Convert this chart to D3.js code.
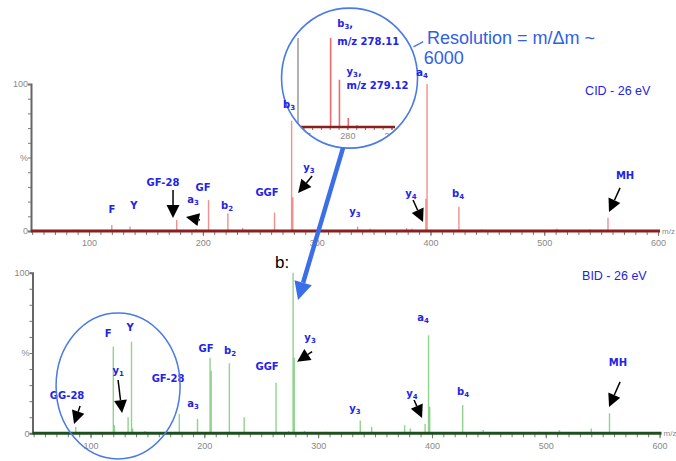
<!DOCTYPE html>
<html>
<head>
<meta charset="utf-8">
<script src="https://cdn.jsdelivr.net/npm/d3@7"></script>
<style>
  body { margin: 0; background: #fff; }
  svg { display: block; }
  .tick text { fill: #888; font-family: "Liberation Sans", Arial, sans-serif; font-size: 9px; }
  .lbl { fill: #2323e8; font-family: "DejaVu Sans", sans-serif; font-weight: bold; font-size: 10px; }
</style>
</head>
<body>
<div id="chart"></div>
<script>
// CID spectrum (upper panel), m/z and relative intensity %
var cidMz  = [87, 120, 136, 148, 177, 194, 205, 222, 235, 263, 278, 279, 307, 336, 347, 379, 384, 396, 397, 425, 445, 511, 540, 556];
var cidInt = [0.8, 4, 3, 0.8, 7.5, 1.5, 21, 12, 2, 12.5, 75, 23, 0.8, 3, 1.5, 2, 1.5, 22, 100, 16.5, 1, 1.5, 1, 9];

// BID spectrum (lower panel)
var bidMz  = [87, 120, 121, 133, 136, 137, 148, 178, 194, 205, 206, 222, 235, 263, 274, 278, 279, 288, 307, 337, 347, 376, 381, 394, 397, 398, 427, 445, 494, 512, 540, 556];
var bidInt = [4, 54, 5, 10, 57, 3, 1.5, 12, 9, 47, 39, 43.6, 10, 31.5, 1.5, 100, 47, 1.5, 1, 8, 4, 5, 3, 6, 61, 16.5, 17.6, 2, 1, 2, 3, 12.4];

// zoomed inset around b3 / y3
var insetMz  = [278.1, 279.1, 280.1, 281.1];
var insetInt = [100, 53, 10, 2];

var xTicks = [100, 200, 300, 400, 500, 600];
var insetTicks = [275, 280, 285];

var w = 676, h = 461;
var svg = d3.select('#chart').append('svg').attr('width', w).attr('height', h);

var x  = d3.scaleLinear().domain([49, 601.7]).range([31, 660]);
var xb = d3.scaleLinear().domain([49, 601.7]).range([32.5, 661.5]);
var yTop = d3.scaleLinear().domain([0, 100]).range([231, 84]);
var yBot = d3.scaleLinear().domain([0, 100]).range([433.3, 272.7]);

function panel(xs, ys, mz, inten, peakCol, axisCol) {
    var g = svg.append('g');
    // y axis
    var ya = g.append('g').attr('transform', 'translate(' + xs.range()[0] + ',0)')
        .call(d3.axisLeft(ys).tickValues(d3.range(0, 101, 10)).tickSize(3)
            .tickFormat(function(d){ return d == 100 ? '100' : d == 50 ? '%' : d == 0 ? '0' : ''; }));
    ya.select('.domain').attr('stroke', '#666').attr('stroke-width', 2);
    ya.selectAll('.tick line').attr('stroke', '#777');
    ya.selectAll('.tick text').attr('font-size', 8).attr('x', -3);

    // peaks
    g.selectAll('line.pk').data(d3.range(mz.length)).enter().append('line')
        .attr('class', 'pk')
        .attr('x1', function(i){ return xs(mz[i]); })
        .attr('x2', function(i){ return xs(mz[i]); })
        .attr('y1', ys(0))
        .attr('y2', function(i){ return ys(inten[i]); })
        .attr('stroke', peakCol).attr('stroke-width', 1.4).attr('opacity', 0.75);

    // minor x ticks
    var minor = g.append('g').attr('transform', 'translate(0,' + ys(0) + ')')
        .call(d3.axisBottom(xs).tickValues(d3.range(50, 601, 10)).tickSize(4).tickFormat(''));
    minor.select('.domain').remove();
    minor.selectAll('line').attr('stroke', '#777');
    var major = g.append('g').attr('transform', 'translate(0,' + ys(0) + ')')
        .call(d3.axisBottom(xs).tickValues(xTicks).tickSize(5).tickPadding(4));
    major.select('.domain').remove();
    major.selectAll('line').attr('stroke', '#777');

    // baseline
    g.append('line').attr('x1', xs.range()[0]).attr('x2', xs.range()[1])
        .attr('y1', ys(0)).attr('y2', ys(0))
        .attr('stroke', axisCol).attr('stroke-width', 3);
    g.append('text').attr('x', xs.range()[1] + 2).attr('y', ys(0) + 3)
        .attr('fill', '#888').attr('font-size', 8)
        .attr('font-family', '"Liberation Sans", Arial, sans-serif').text('m/z');
    return g;
}

panel(x, yTop, cidMz, cidInt, '#f06a6a', '#8b1e1e');
panel(xb, yBot, bidMz, bidInt, '#6cc46c', '#1f4f1f');

// inset magnifier (drawn before the labels so b3 sits on top of its rim)
var cx = x(328.9), cy = yTop(104);
svg.append('defs').append('clipPath').attr('id', 'lens')
    .append('ellipse').attr('cx', cx).attr('cy', cy).attr('rx', 68).attr('ry', 70);
svg.append('ellipse').attr('cx', cx).attr('cy', cy).attr('rx', 68).attr('ry', 70).attr('fill', '#fff');
var ins = svg.append('g').attr('clip-path', 'url(#lens)');
var xi = d3.scaleLinear().domain([274.4, 285.4]).range([298, 395]);
var yi = d3.scaleLinear().domain([0, 100]).range([127, 38]);
ins.append('line').attr('x1', xi(274.4)).attr('x2', xi(274.4)).attr('y1', yi(0)).attr('y2', yi(100))
    .attr('stroke', '#999').attr('stroke-width', 1.5);
ins.selectAll('line.ip').data(d3.range(insetMz.length)).enter().append('line')
    .attr('x1', function(i){ return xi(insetMz[i]); }).attr('x2', function(i){ return xi(insetMz[i]); })
    .attr('y1', yi(0)).attr('y2', function(i){ return yi(insetInt[i]); })
    .attr('stroke', '#f06a6a').attr('stroke-width', 1.6);
var ia = ins.append('g').attr('transform', 'translate(0,' + yi(0) + ')')
    .call(d3.axisBottom(xi).tickValues(d3.range(275, 286, 1)).tickSize(3).tickFormat(''));
ia.select('.domain').remove();
ia.selectAll('line').attr('stroke', '#777');
var ib = ins.append('g').attr('transform', 'translate(0,' + yi(0) + ')')
    .call(d3.axisBottom(xi).tickValues(insetTicks).tickSize(3).tickPadding(3));
ib.select('.domain').remove();
ib.selectAll('line').attr('stroke', '#777');
ib.selectAll('text').attr('font-size', 8);
ins.append('line').attr('x1', xi(274.4)).attr('x2', xi(285.4)).attr('y1', yi(0)).attr('y2', yi(0))
    .attr('stroke', '#8b1e1e').attr('stroke-width', 2.5);
svg.append('ellipse').attr('cx', cx).attr('cy', cy).attr('rx', 68).attr('ry', 70)
    .attr('fill', 'none').attr('stroke', '#4a7ae6').attr('stroke-width', 1.6);

function insetLbl(tx, sub, px, py) {
    var t = svg.append('text').attr('class', 'lbl').attr('font-size', 10.5).attr('x', px).attr('y', py).text(tx);
    if (sub) { t.append('tspan').attr('font-size', 7).attr('dy', 2).text(sub); t.append('tspan').attr('dy', -2).text(','); }
}
insetLbl('b', '3', xi(278.85), yi(112));
insetLbl('m/z 278.11', '', xi(278.85), yi(92));
insetLbl('y', '3', xi(279.9), yi(58));
insetLbl('m/z 279.12', '', xi(279.9), yi(43));

// labels: [text, subscript, mz, pct]
function labels(xs, ys, list) {
    list.forEach(function(l){
        var t = svg.append('text').attr('class', 'lbl')
            .attr('x', xs(l[2])).attr('y', ys(l[3]) + 4)
            .attr('text-anchor', 'middle').text(l[0]);
        if (l[1]) t.append('tspan').attr('font-size', 7).attr('dy', 2).text(l[1]);
    });
}
labels(x, yTop, [
    ['F', '', 120.2, 15], ['Y', '', 139.5, 17.7], ['GF-28', '', 165, 33.3],
    ['a', '3', 191.4, 21.8], ['GF', '', 200.2, 30], ['b', '2', 221.3, 17.7],
    ['GGF', '', 256.4, 26.5], ['b', '3', 275.8, 86.4], ['y', '3', 293.3, 43.5],
    ['y', '3', 333.7, 13.6], ['y', '4', 382.9, 25.9], ['a', '4', 392.6, 108.2],
    ['b', '4', 424.2, 25.9], ['MH', '', 571, 38]
]);
labels(xb, yBot, [
    ['GG-28', '', 79.4, 23.9], ['F', '', 115.4, 62.5], ['Y', '', 134.7, 66.2],
    ['y', '1', 124.2, 39.4], ['GF-28', '', 168.1, 34.4], ['a', '3', 190, 18.9],
    ['GF', '', 201.5, 53.1], ['b', '2', 222.6, 51.9], ['GGF', '', 255.1, 41.9],
    ['y', '3', 292.9, 60], ['y', '3', 332.4, 15.8], ['y', '4', 382.5, 25.1],
    ['a', '4', 392.2, 72.4], ['b', '4', 427.3, 26.3], ['MH', '', 563.5, 44.4]
]);

// black arrows: [tailMz, tailPct, tipMz, tipPct]
function arrows(xs, ys, list) {
    list.forEach(function(a){
        var x1 = xs(a[0]), y1 = ys(a[1]), x2 = xs(a[2]), y2 = ys(a[3]);
        var ang = Math.atan2(y2 - y1, x2 - x1), L = 13, W = 6.5;
        var bx = x2 - L * Math.cos(ang), by = y2 - L * Math.sin(ang);
        svg.append('line').attr('x1', x1).attr('y1', y1).attr('x2', bx).attr('y2', by)
            .attr('stroke', '#000').attr('stroke-width', 1.5);
        var p = [[x2, y2],
                 [bx + W * Math.sin(ang), by - W * Math.cos(ang)],
                 [bx - W * Math.sin(ang), by + W * Math.cos(ang)]];
        svg.append('path').attr('d', d3.line()(p) + 'Z').attr('fill', '#000');
    });
}
arrows(x, yTop, [
    [173.8, 27.9, 173.8, 8.8], [197.5, 7.5, 185.2, 9.5], [296, 37.4, 283.7, 25.9],
    [384.7, 21.1, 393.5, 6.1], [566.6, 29.3, 556.9, 12.9]
]);
arrows(xb, yBot, [
    [90.8, 17, 85.5, 5.8], [124.2, 33.2, 127.7, 12.6], [294.7, 50.8, 281.5, 44.6],
    [384.3, 20.7, 391.3, 9.5], [565.3, 32, 555.6, 16.4]
]);

// panel titles
svg.append('text').attr('x', x(535.9)).attr('y', yTop(95.2) + 4).attr('fill', '#2323e8')
    .attr('font-family', '"Liberation Sans", Arial, sans-serif').attr('font-size', 12.5).text('CID - 26 eV');
svg.append('text').attr('x', xb(531.9)).attr('y', yBot(97.9) + 4).attr('fill', '#2323e8')
    .attr('font-family', '"Liberation Sans", Arial, sans-serif').attr('font-size', 12.5).text('BID - 26 eV');

// bottom highlight ellipse
svg.append('ellipse').attr('cx', xb(124.2)).attr('cy', yBot(29.5)).attr('rx', 62).attr('ry', 73)
    .attr('fill', 'none').attr('stroke', '#4a7ae6').attr('stroke-width', 1.5);

// big blue arrow from inset to b3 in lower panel
(function(){
    var x1 = x(323.2), y1 = yTop(56.5), x2 = xb(282.3), y2 = yBot(83);
    var ang = Math.atan2(y2 - y1, x2 - x1), L = 18, W = 9;
    var bx = x2 - L * Math.cos(ang), by = y2 - L * Math.sin(ang);
    svg.append('line').attr('x1', x1).attr('y1', y1).attr('x2', bx).attr('y2', by)
        .attr('stroke', '#3b6fe8').attr('stroke-width', 4.5);
    var p = [[x2, y2], [bx + W * Math.sin(ang), by - W * Math.cos(ang)], [bx - W * Math.sin(ang), by + W * Math.cos(ang)]];
    svg.append('path').attr('d', d3.line()(p) + 'Z').attr('fill', '#3b6fe8');
})();
svg.append('text').attr('x', xb(268.3)).attr('y', yBot(106.7) + 6).attr('text-anchor', 'middle')
    .attr('font-family', '"Liberation Sans", Arial, sans-serif').attr('font-size', 17).attr('fill', '#000').text('b:');

// resolution annotation
svg.append('line').attr('x1', xi(287.5)).attr('y1', yi(90)).attr('x2', xi(288.6)).attr('y2', yi(96))
    .attr('stroke', '#4a7ae6').attr('stroke-width', 1.5);
var res = svg.append('text').attr('fill', '#3060e6').attr('font-size', 18)
    .attr('font-family', '"Liberation Sans", Arial, sans-serif');
res.append('tspan').attr('x', x(397)).attr('y', yTop(131) + 6).text('Resolution = m/\u0394m ~');
res.append('tspan').attr('x', x(394)).attr('y', yTop(117.5) + 6).text('6000');
</script>
</body>
</html>
